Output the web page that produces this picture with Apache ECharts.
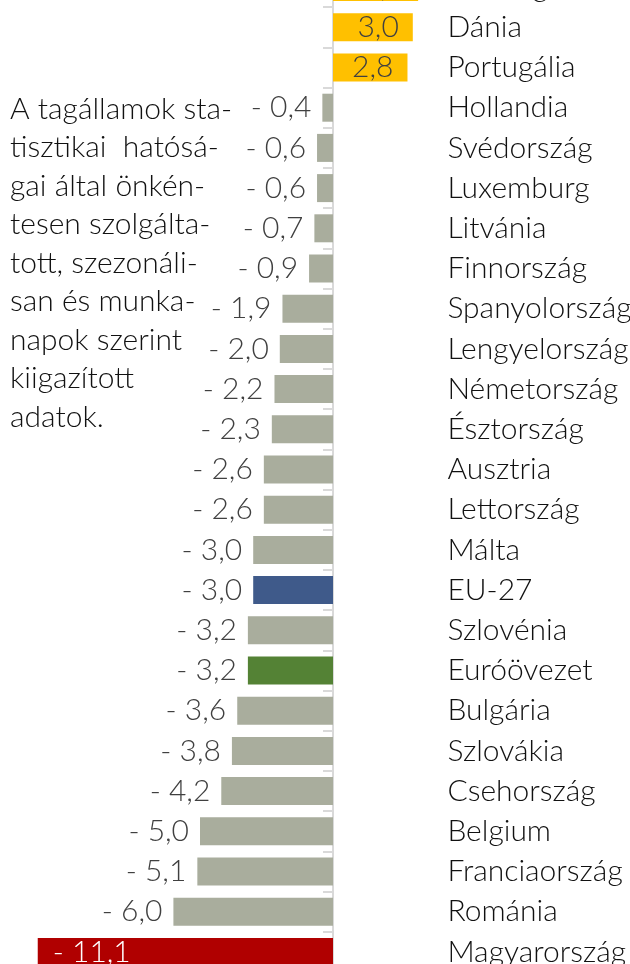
<!DOCTYPE html>
<html>
<head>
<meta charset="utf-8">
<script src="https://cdn.jsdelivr.net/npm/echarts@6/dist/echarts.min.js"></script>
<style>html,body{margin:0;padding:0;background:#fff}#c{width:630px;height:964px}</style>
</head>
<body>
<div id="c"></div>
<script>
const categories = ["Írország","Dánia","Portugália","Hollandia","Svédország","Luxemburg","Litvánia","Finnország","Spanyolország","Lengyelország","Németország","Észtország","Ausztria","Lettország","Málta","EU-27","Szlovénia","Euróövezet","Bulgária","Szlovákia","Csehország","Belgium","Franciaország","Románia","Magyarország"];
const values = [3.2,3.0,2.8,-0.4,-0.6,-0.6,-0.7,-0.9,-1.9,-2.0,-2.2,-2.3,-2.6,-2.6,-3.0,-3.0,-3.2,-3.2,-3.6,-3.8,-4.2,-5.0,-5.1,-6.0,-11.1];
const noteLines = ["A tagállamok sta-","tisztikai  hatósá-","gai által önkén-","tesen szolgálta-","tott, szezonáli-","san és munka-","napok szerint","kiigazított","adatok."];

const FONT = "Lato";
function colorFor(name, v) {
  if (name === "EU-27") return "#3F5A8A";
  if (name === "Euróövezet") return "#548235";
  if (name === "Magyarország") return "#B00000";
  if (v > 0) return "#FFC000";
  return "#A9AD9D";
}
function fmt(v) {
  const s = Math.abs(v).toFixed(1).replace(".", ",");
  return v < 0 ? "- " + s : s;
}
const data = categories.map((name, i) => {
  const v = values[i];
  let label;
  if (name === "Magyarország") label = { position: "insideLeft", distance: 15, color: "#ffffff" };
  else if (v > 0) label = { position: "insideRight", distance: 14, color: "#404040" };
  else label = { position: "left", distance: 11, color: "#404040" };
  return { value: v, itemStyle: { color: colorFor(name, v) }, label };
});

const chart = echarts.init(document.getElementById("c"), null, { renderer: "canvas" });
chart.setOption({
  animation: false,
  grid: { left: 13.8, right: 190.6, top: -33, height: 1005, containLabel: false, outerBoundsMode: "none" },
  xAxis: { type: "value", min: -12, max: 4, show: false },
  yAxis: {
    type: "category",
    position: "right",
    data: categories,
    inverse: true,
    axisLine: { show: true, onZero: true, lineStyle: { color: "#d9d9d9", width: 2 } },
    axisTick: { show: true, length: 10, inside: true, lineStyle: { color: "#d9d9d9", width: 2 } },
    axisLabel: { interval: 0, margin: 8, align: "left", fontFamily: FONT, fontWeight: 300, fontSize: 30, color: "#111111" },
    splitLine: { show: false }
  },
  series: [{
    type: "bar",
    data: data,
    barWidth: 28,
    label: { show: true, fontFamily: FONT, fontWeight: 300, fontSize: 30, formatter: p => fmt(p.value) }
  }],
  graphic: [{
    type: "text",
    left: 10,
    top: 90,
    style: { text: noteLines.join("\n"), fontFamily: FONT, fontWeight: 300, fontSize: 30, lineHeight: 38.5, fill: "#111111" }
  }]
});
</script>
</body>
</html>
